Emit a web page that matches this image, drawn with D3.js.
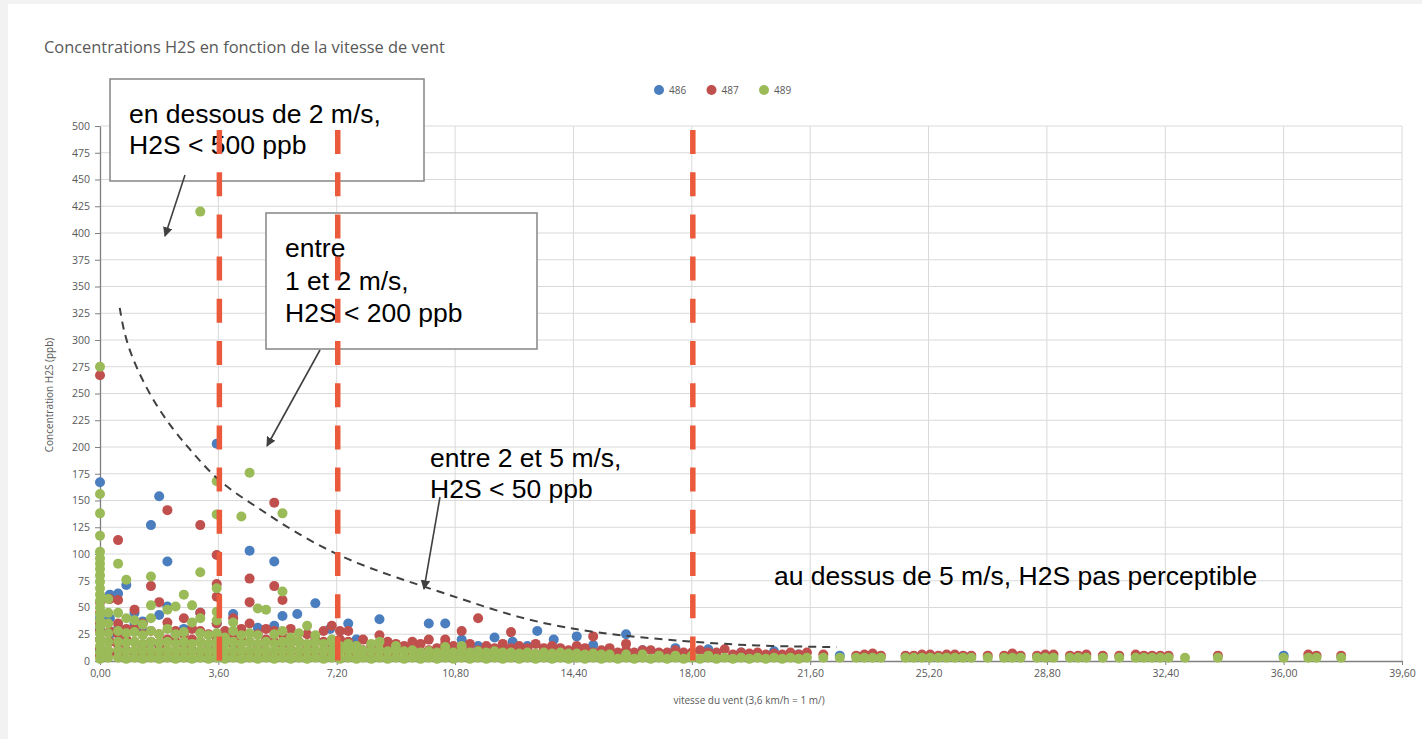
<!DOCTYPE html>
<html>
<head>
<meta charset="utf-8">
<script src="https://cdn.jsdelivr.net/npm/d3@7"></script>
<style>
body { margin: 0; background: #f2f2f2; }
svg { display: block; }
text { font-family: "Open Sans", sans-serif; }
.note { font-family: "Liberation Sans", Arial, sans-serif; font-size: 26.5px; fill: #000; }
</style>
</head>
<body>
<svg width="1422" height="739"></svg>
<script>
// ---- data ----
var seriesNames = ["486", "487", "489"];
var seriesColors = ["#4a7ebf", "#c0504d", "#9bbb59"];

var xTicks = [0, 3.6, 7.2, 10.8, 14.4, 18, 21.6, 25.2, 28.8, 32.4, 36, 39.6];
var yTicks = [0, 25, 50, 75, 100, 125, 150, 175, 200, 225, 250, 275, 300, 325, 350, 375, 400, 425, 450, 475, 500];

// wind speed -> list of H2S readings (ppb) at that speed
var s486 = [
  [0, [10, 20, 30, 40, 167]], [0.3, [25, 40, 62]], [0.55, [30, 63]], [0.8, [20, 71]],
  [1.05, [35, 45]], [1.3, [28, 37]], [1.55, [17, 127]], [1.8, [43, 154]],
  [2.05, [51, 93]], [2.3, [25]], [2.55, [30]], [3.05, [45]], [3.55, [35, 203]],
  [4.05, [44]], [4.55, [103]], [4.8, [31]], [5.3, [33, 93]], [5.55, [42]],
  [6.0, [44]], [6.55, [54]], [7.0, [30]], [7.55, [35]], [7.8, [20]], [8.5, [39]],
  [9.0, [15]], [9.5, [12]], [10.0, [35]], [10.5, [35]], [11.0, [20]], [11.5, [14]],
  [12.0, [22]], [12.55, [18]], [13.0, [14]], [13.3, [28]], [13.8, [20]], [14.5, [23]],
  [15.0, [15]], [16.0, [25]], [16.5, [10]], [17.5, [12]], [18.5, [11]], [19.5, [8]],
  [20.5, [9]], [21.25, [6]], [22.5, [5]], [36.0, [5]]
];

var s487 = [
  [0, [5, 12, 20, 28, 35, 45, 55, 267]], [0.3, [8, 18, 28, 58]], [0.55, [6, 15, 25, 35, 57, 113]],
  [0.8, [10, 20, 30]], [1.05, [8, 18, 30, 48]], [1.3, [6, 15, 25, 35]], [1.55, [8, 18, 28, 70]],
  [1.8, [6, 15, 25, 55]], [2.05, [10, 20, 36, 141]], [2.3, [8, 18, 28]], [2.55, [6, 15, 25, 40]],
  [2.8, [10, 20, 30]], [3.05, [8, 18, 28, 45, 127]], [3.3, [6, 15, 25]], [3.55, [10, 20, 35, 60, 72, 99]],
  [3.8, [8, 18, 28]], [4.05, [6, 15, 25, 40]], [4.3, [10, 20, 30]], [4.55, [8, 18, 35, 55, 77]],
  [4.8, [6, 15, 25]], [5.05, [10, 20, 30]], [5.3, [8, 18, 28, 70, 148]], [5.55, [6, 15, 25, 57]],
  [5.8, [10, 20, 30]], [6.05, [8, 18]], [6.3, [6, 15, 25]], [6.55, [10, 20]], [6.8, [8, 18, 28]],
  [7.05, [6, 15, 33]], [7.3, [10, 20, 28]], [7.55, [8, 18, 28]], [7.8, [6, 14]], [8.0, [10, 20]],
  [8.25, [8, 15]], [8.5, [10, 24]], [8.75, [6, 14, 18]], [9.0, [8, 16]], [9.25, [10, 14]],
  [9.5, [6, 12, 18]], [9.75, [8, 16]], [10.0, [10, 20]], [10.25, [6, 12]], [10.5, [8, 16, 20]],
  [10.75, [10, 14]], [11.0, [6, 12, 28]], [11.25, [8, 16]], [11.5, [10, 40]], [11.75, [6, 14]],
  [12.0, [8, 12]], [12.25, [10, 16]], [12.5, [6, 12, 27]], [12.75, [8, 14]], [13.0, [10, 12]],
  [13.25, [6, 16]], [13.5, [8, 12]], [13.75, [10, 14]], [14.0, [6, 12]], [14.25, [8, 10]],
  [14.5, [10, 14]], [14.75, [6, 12]], [15.0, [8, 23]], [15.25, [10]], [15.5, [6, 12]],
  [15.75, [8]], [16.0, [10, 16]], [16.25, [6, 8]], [16.5, [8, 10]], [16.75, [10]], [17.0, [6, 8]],
  [17.25, [8]], [17.5, [10]], [17.75, [6, 8]], [18.0, [8]], [18.25, [10]], [18.5, [6, 8]],
  [18.75, [8]], [19.0, [11]], [19.25, [6]], [19.5, [8]], [19.75, [7]], [20.0, [8]], [20.25, [6]],
  [20.5, [7]], [20.75, [6]], [21.0, [8]], [21.25, [6]], [21.5, [8]], [22.0, [6]],
  [23.0, [5]], [23.25, [6]], [23.5, [7]], [23.75, [5]], [24.5, [5]], [24.75, [5]], [25.0, [6]],
  [25.25, [6]], [25.5, [5]], [25.75, [6]], [26.0, [6]], [26.25, [5]], [26.5, [5]], [27.0, [5]],
  [27.5, [5]], [27.75, [7]], [28.0, [5]], [28.5, [5]], [28.75, [6]], [29.0, [6]], [29.5, [5]],
  [29.75, [5]], [30.0, [6]], [30.5, [5]], [31.0, [5]], [31.5, [6]], [31.75, [5]], [32.0, [5]],
  [32.25, [5]], [32.5, [5]], [34.0, [5]], [36.75, [6]], [37.0, [5]], [37.75, [5]]
];

var s489 = [
  [0, [2, 8, 14, 20, 26, 32, 38, 44, 50, 56, 62, 68, 74, 80, 86, 91, 96, 102, 117, 138, 156, 275]],
  [0.25, [3, 10, 18, 26, 35, 45, 58]], [0.55, [3, 10, 18, 28, 45, 91]], [0.8, [2, 9, 17, 26, 40, 76]],
  [1.05, [3, 10, 18, 27, 38]], [1.3, [2, 9, 16, 24, 34]], [1.55, [3, 10, 18, 28, 40, 52, 79]],
  [1.8, [2, 9, 17, 25]], [2.05, [3, 10, 18, 30, 48]], [2.3, [2, 9, 16, 25, 51]],
  [2.55, [3, 10, 18, 27, 62]], [2.8, [2, 9, 16, 36, 52]], [3.05, [3, 10, 18, 26, 40, 83, 420]],
  [3.3, [2, 9, 16, 24]], [3.55, [3, 10, 18, 26, 38, 46, 68, 137, 168]], [3.8, [2, 9, 16, 22]],
  [4.05, [3, 10, 18, 28, 36]], [4.3, [2, 9, 16, 24, 135]], [4.55, [3, 10, 18, 26, 176]],
  [4.8, [2, 9, 16, 24, 49]], [5.05, [3, 10, 18, 48]], [5.3, [2, 9, 16, 25]],
  [5.55, [3, 10, 18, 28, 65, 138]], [5.8, [2, 9, 16, 22]], [6.05, [3, 10, 18, 26]],
  [6.3, [2, 9, 16, 33]], [6.55, [3, 10, 18, 24]], [6.8, [2, 9, 16]], [7.05, [3, 10, 18, 20]],
  [7.3, [2, 9, 14]], [7.55, [3, 10, 16]], [7.8, [2, 9, 14]], [8.0, [3, 10]], [8.25, [2, 9, 16]],
  [8.5, [3, 10, 18]], [8.75, [2, 9]], [9.0, [3, 10, 14]], [9.25, [2, 9]], [9.5, [3, 10]],
  [9.75, [2, 8]], [10.0, [3, 9]], [10.25, [2, 8]], [10.5, [3, 9, 13]], [10.75, [2, 8]],
  [11.0, [3, 9, 14]], [11.25, [2, 8]], [11.5, [3, 9]], [11.75, [2, 8]], [12.0, [3, 9]],
  [12.25, [2, 8]], [12.5, [3, 8]], [12.75, [2, 7]], [13.0, [3, 8]], [13.25, [2, 7]],
  [13.5, [3, 8]], [13.75, [2, 7]], [14.0, [3, 8]], [14.25, [2, 7]], [14.5, [3, 7]],
  [14.75, [2, 6]], [15.0, [3, 7]], [15.25, [2, 6]], [15.5, [3, 6]], [15.75, [2]], [16.0, [3, 6]],
  [16.25, [2]], [16.5, [3, 6]], [16.75, [2]], [17.0, [3, 5]], [17.25, [2]], [17.5, [3, 5]],
  [17.75, [2]], [18.0, [3, 5]], [18.25, [2]], [18.5, [3, 5]], [18.75, [2]], [19.0, [3]],
  [19.25, [2]], [19.5, [3]], [19.75, [2]], [20.0, [3]], [20.25, [2]], [20.5, [3]], [20.75, [2]],
  [21.0, [3]], [21.25, [2]], [21.5, [3]], [22.0, [3]], [22.5, [3]],
  [23.0, [3]], [23.25, [3]], [23.5, [3]], [23.75, [3]], [24.5, [3]], [24.75, [3]], [25.0, [3]],
  [25.25, [3]], [25.5, [3]], [25.75, [3]], [26.0, [3]], [26.25, [3]], [26.5, [3]], [27.0, [3]],
  [27.5, [3]], [27.75, [3]], [28.0, [3]], [28.5, [3]], [28.75, [3]], [29.0, [3]], [29.5, [3]],
  [29.75, [3]], [30.0, [3]], [30.5, [3]], [31.0, [3]], [31.5, [3]], [31.75, [3]], [32.0, [3]],
  [32.25, [3]], [32.5, [3]], [33.0, [3]], [34.0, [3]], [36.0, [3]], [36.75, [3]], [37.0, [3]], [37.75, [3]]
];

// hand drawn trend curve
var trendX = [0.6, 0.82, 1.73, 2.74, 3.65, 4.77, 5.78, 7.3, 9.0, 11.0, 12.55, 14.1, 16.0, 18.0, 19.9, 22.4];
var trendY = [330, 291, 235, 197, 166, 144, 123, 97, 78, 58, 42, 31, 23, 18, 14, 13];

// red threshold lines (1, 2, 5 m/s)
var thresholds = [3.6, 7.2, 18];

var width = 1422;
var height = 739;

var svg = d3.select("svg");

svg.append("rect")
  .attr("x", 8).attr("y", 4)
  .attr("width", width - 8).attr("height", height - 4)
  .attr("fill", "#fff");

var x = d3.scaleLinear().domain([0, 39.6]).range([100, 1402]);
var y = d3.scaleLinear().domain([0, 500]).range([661, 126]);

var fr = d3.formatLocale({ decimal: ",", thousands: " ", grouping: [3], currency: ["", "€"] });
var fmt = fr.format(".2f");

// grid
svg.append("g")
  .selectAll("line")
  .data(yTicks.slice(1))
  .enter().append("line")
    .attr("x1", x(0)).attr("x2", x(39.6))
    .attr("y1", d => y(d)).attr("y2", d => y(d))
    .attr("stroke", "#d9d9d9");

svg.append("g")
  .selectAll("line")
  .data(xTicks.slice(1))
  .enter().append("line")
    .attr("x1", d => x(d)).attr("x2", d => x(d))
    .attr("y1", y(0)).attr("y2", y(500))
    .attr("stroke", "#d9d9d9");

// axes
var xAxis = svg.append("g")
  .attr("transform", "translate(0," + y(0) + ")")
  .call(d3.axisBottom(x).tickValues(xTicks).tickFormat(fmt).tickSize(4).tickSizeOuter(0).tickPadding(5));

var yAxis = svg.append("g")
  .attr("transform", "translate(" + x(0) + ",0)")
  .call(d3.axisLeft(y).tickValues(yTicks).tickSize(5).tickSizeOuter(0).tickPadding(5));

[xAxis, yAxis].forEach(a => {
  a.select(".domain").attr("stroke", "#7f7f7f").attr("stroke-width", 1.3);
  a.selectAll(".tick line").attr("stroke", "#7f7f7f");
  a.selectAll(".tick text").attr("fill", "#595959").style("font-size", "10.5px").style("font-family", "Open Sans, sans-serif");
});

// points
var allSeries = [s486, s487, s489];
allSeries.forEach((series, i) => {
  var pts = [];
  series.forEach(c => c[1].forEach(v => pts.push({ x: c[0], y: v })));
  svg.append("g")
    .selectAll("circle")
    .data(pts)
    .enter().append("circle")
      .attr("cx", d => x(d.x))
      .attr("cy", d => y(d.y))
      .attr("r", 5)
      .attr("fill", seriesColors[i]);
});

// trend curve
var line = d3.line()
  .x(d => x(d[0]))
  .y(d => y(d[1]))
  .curve(d3.curveBasis);

svg.append("path")
  .datum(trendX.map((v, i) => [v, trendY[i]]))
  .attr("d", line)
  .attr("fill", "none")
  .attr("stroke", "#404040")
  .attr("stroke-width", 2)
  .attr("stroke-dasharray", "8,6");

// title
svg.append("text")
  .attr("x", 44).attr("y", 53)
  .attr("fill", "#595959")
  .style("font-size", "16.4px")
  .text("Concentrations H2S en fonction de la vitesse de vent");

// legend
var legend = svg.append("g")
  .selectAll("g")
  .data(seriesNames)
  .enter().append("g")
    .attr("transform", (d, i) => "translate(" + (659 + i * 52.5) + ",90)");
legend.append("circle").attr("r", 5).attr("fill", (d, i) => seriesColors[i]);
legend.append("text")
  .attr("x", 10).attr("dy", "0.35em")
  .attr("fill", "#595959")
  .style("font-size", "10px")
  .text(d => d);

// axis titles
svg.append("text")
  .attr("transform", "translate(53,395) rotate(-90)")
  .attr("text-anchor", "middle")
  .attr("fill", "#595959")
  .style("font-size", "10px")
  .text("Concentration H2S (ppb)");

svg.append("text")
  .attr("x", 749).attr("y", 704)
  .attr("text-anchor", "middle")
  .attr("fill", "#595959")
  .style("font-size", "10px")
  .text("vitesse du vent (3,6 km/h = 1 m/)");

// annotations
svg.append("defs").append("marker")
  .attr("id", "arr")
  .attr("viewBox", "0 0 10 10")
  .attr("refX", 9).attr("refY", 5)
  .attr("markerWidth", 6).attr("markerHeight", 6)
  .attr("orient", "auto")
  .append("path")
    .attr("d", "M0,0 L10,5 L0,10 z")
    .attr("fill", "#404040");

var boxes = [
  { x: 110, y: 79, w: 314, h: 102, tx: 129, lines: ["en dessous de 2 m/s,", "H2S < 500 ppb"], y0: 123, lh: 31 },
  { x: 266, y: 213, w: 271, h: 136, tx: 285, lines: ["entre", "1 et 2 m/s,", "H2S < 200 ppb"], y0: 257, lh: 32.5 }
];

boxes.forEach(b => {
  svg.append("rect")
    .attr("x", b.x).attr("y", b.y).attr("width", b.w).attr("height", b.h)
    .attr("fill", "#fff").attr("stroke", "#8c8c8c").attr("stroke-width", 1.6);
  b.lines.forEach((t, i) => {
    svg.append("text").attr("class", "note")
      .attr("x", b.tx).attr("y", b.y0 + i * b.lh).text(t);
  });
});

svg.append("text").attr("class", "note").attr("x", 430).attr("y", 467).text("entre 2 et 5 m/s,");
svg.append("text").attr("class", "note").attr("x", 430).attr("y", 498).text("H2S < 50 ppb");
svg.append("text").attr("class", "note").attr("x", 774).attr("y", 585).text("au dessus de 5 m/s, H2S pas perceptible");

var arrows = [
  [185, 175, 165, 236],
  [320, 350, 267, 446],
  [440, 497, 424, 589]
];
svg.append("g")
  .selectAll("line")
  .data(arrows)
  .enter().append("line")
    .attr("x1", d => d[0]).attr("y1", d => d[1])
    .attr("x2", d => d[2]).attr("y2", d => d[3])
    .attr("stroke", "#404040")
    .attr("stroke-width", 1.6)
    .attr("marker-end", "url(#arr)");

// threshold lines on top
svg.append("g")
  .selectAll("line")
  .data(thresholds)
  .enter().append("line")
    .attr("x1", d => x(d) + 1).attr("x2", d => x(d) + 1)
    .attr("y1", 130).attr("y2", y(0))
    .attr("stroke", "#ec5a3c")
    .attr("stroke-width", 5.5)
    .attr("stroke-dasharray", "24,18.2");
</script>
</body>
</html>
